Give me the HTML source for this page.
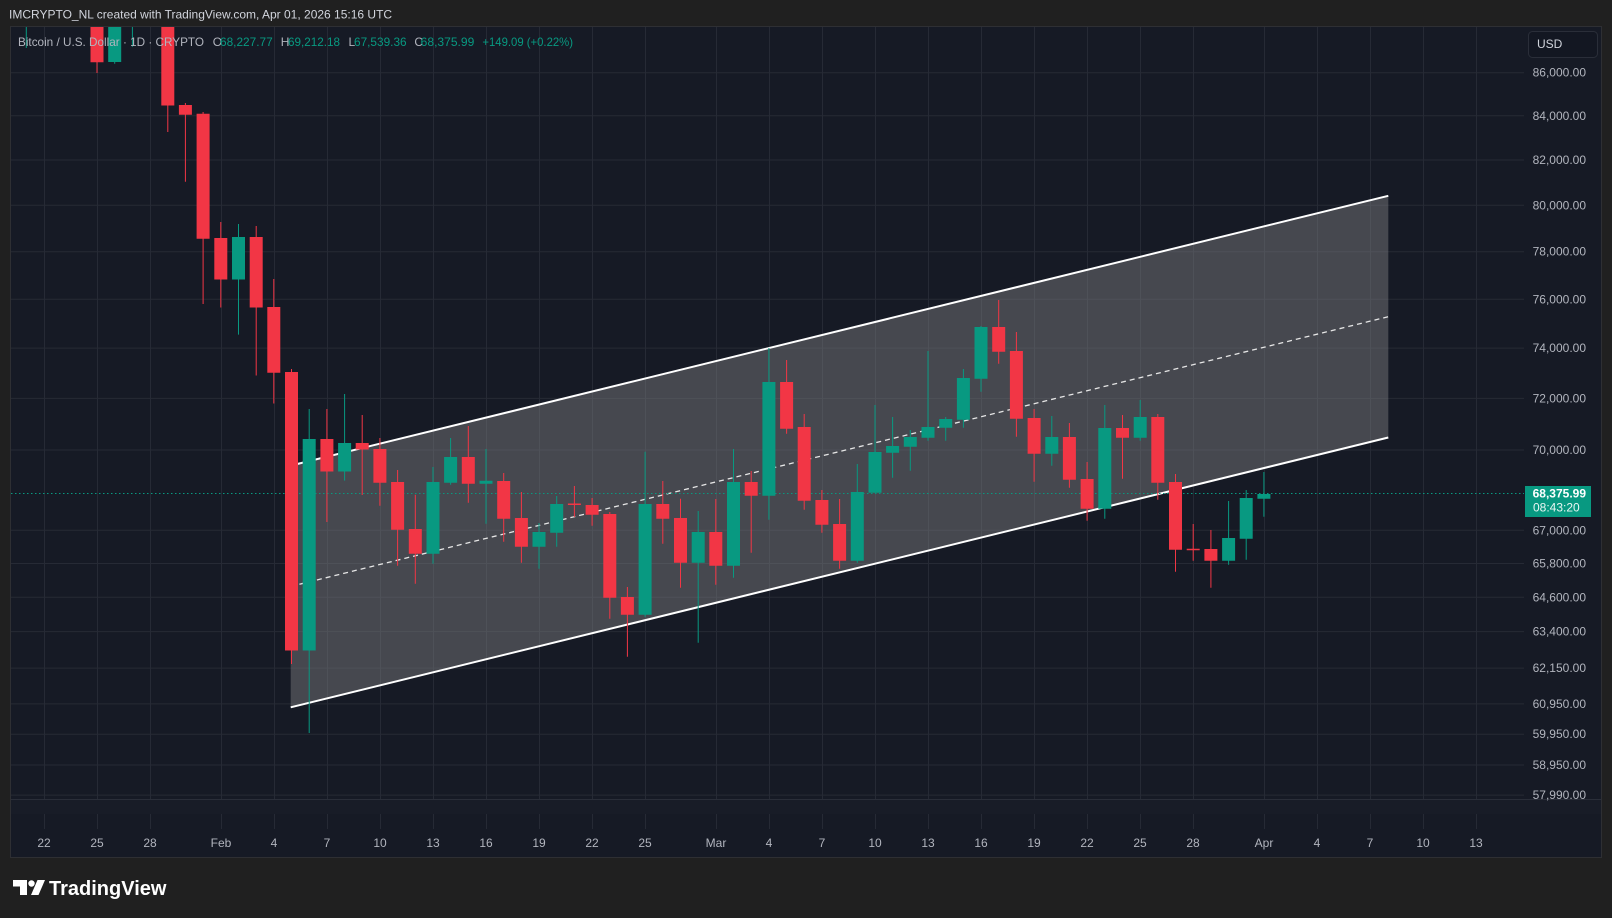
<!DOCTYPE html>
<html>
<head>
<meta charset="utf-8">
<style>
  html,body{margin:0;padding:0;background:#202020;}
  body{width:1612px;height:918px;overflow:hidden;}
  svg{display:block;}
  text{font-family:"Liberation Sans",sans-serif;}
</style>
</head>
<body>
<svg width="1612" height="918" viewBox="0 0 1612 918" xmlns="http://www.w3.org/2000/svg">
  <defs>
    <clipPath id="pane"><rect x="10" y="27" width="1514" height="772"/></clipPath>
  </defs>
  <!-- outer bg -->
  <rect x="0" y="0" width="1612" height="918" fill="#202020"/>
  <!-- header -->
  <text x="9" y="18.5" font-size="12" fill="#d1d4dc">IMCRYPTO_NL created with TradingView.com, Apr 01, 2026 15:16 UTC</text>

  <!-- chart panel -->
  <rect x="10.5" y="26.5" width="1591" height="831" fill="#161a25" stroke="#2e2f33" stroke-width="1"/>

  <!-- horizontal grid -->
  <g stroke="#262a35" stroke-width="1">
    <line x1="11" x2="1524" y1="72.7" y2="72.7"/>
    <line x1="11" x2="1524" y1="115.8" y2="115.8"/>
    <line x1="11" x2="1524" y1="160" y2="160"/>
    <line x1="11" x2="1524" y1="205.3" y2="205.3"/>
    <line x1="11" x2="1524" y1="251.7" y2="251.7"/>
    <line x1="11" x2="1524" y1="299.3" y2="299.3"/>
    <line x1="11" x2="1524" y1="348.1" y2="348.1"/>
    <line x1="11" x2="1524" y1="398.4" y2="398.4"/>
    <line x1="11" x2="1524" y1="450" y2="450"/>
    <line x1="11" x2="1524" y1="530.3" y2="530.3"/>
    <line x1="11" x2="1524" y1="563.5" y2="563.5"/>
    <line x1="11" x2="1524" y1="597.3" y2="597.3"/>
    <line x1="11" x2="1524" y1="631.6" y2="631.6"/>
    <line x1="11" x2="1524" y1="668.1" y2="668.1"/>
    <line x1="11" x2="1524" y1="703.9" y2="703.9"/>
    <line x1="11" x2="1524" y1="734.2" y2="734.2"/>
    <line x1="11" x2="1524" y1="765" y2="765"/>
    <line x1="11" x2="1524" y1="795.1" y2="795.1"/>
  </g>
  <!-- vertical grid -->
  <g stroke="#262a35" stroke-width="1">
    <line x1="44.5" x2="44.5" y1="27" y2="829"/>
    <line x1="97.5" x2="97.5" y1="27" y2="829"/>
    <line x1="150.5" x2="150.5" y1="27" y2="829"/>
    <line x1="221.5" x2="221.5" y1="27" y2="829"/>
    <line x1="274.5" x2="274.5" y1="27" y2="829"/>
    <line x1="327.5" x2="327.5" y1="27" y2="829"/>
    <line x1="380.5" x2="380.5" y1="27" y2="829"/>
    <line x1="433.5" x2="433.5" y1="27" y2="829"/>
    <line x1="486.5" x2="486.5" y1="27" y2="829"/>
    <line x1="539.5" x2="539.5" y1="27" y2="829"/>
    <line x1="592.5" x2="592.5" y1="27" y2="829"/>
    <line x1="645.5" x2="645.5" y1="27" y2="829"/>
    <line x1="716.5" x2="716.5" y1="27" y2="829"/>
    <line x1="769.5" x2="769.5" y1="27" y2="829"/>
    <line x1="822.5" x2="822.5" y1="27" y2="829"/>
    <line x1="875.5" x2="875.5" y1="27" y2="829"/>
    <line x1="928.5" x2="928.5" y1="27" y2="829"/>
    <line x1="981.5" x2="981.5" y1="27" y2="829"/>
    <line x1="1034.5" x2="1034.5" y1="27" y2="829"/>
    <line x1="1087.5" x2="1087.5" y1="27" y2="829"/>
    <line x1="1140.5" x2="1140.5" y1="27" y2="829"/>
    <line x1="1193.5" x2="1193.5" y1="27" y2="829"/>
    <line x1="1264.5" x2="1264.5" y1="27" y2="829"/>
    <line x1="1317.5" x2="1317.5" y1="27" y2="829"/>
    <line x1="1370.5" x2="1370.5" y1="27" y2="829"/>
    <line x1="1423.5" x2="1423.5" y1="27" y2="829"/>
    <line x1="1476.5" x2="1476.5" y1="27" y2="829"/>
  </g>
  <!-- pane separator -->
  <line x1="11" x2="1601" y1="799.5" y2="799.5" stroke="#2a2e39" stroke-width="1"/>
  <rect x="11" y="800" width="1590" height="14" fill="#181c27"/>

  <!-- channel -->
  <g clip-path="url(#pane)">
    <polygon points="290.7,465.6 1388.3,195.8 1388.3,437.5 290.7,707.3" fill="rgba(129,128,130,0.45)"/>
    <line x1="290.7" y1="465.6" x2="1388.3" y2="195.8" stroke="#ffffff" stroke-width="2"/>
    <line x1="290.7" y1="707.3" x2="1388.3" y2="437.5" stroke="#ffffff" stroke-width="2"/>
    <line x1="290.7" y1="586.4" x2="1388.3" y2="316.7" stroke="#e6e6e6" stroke-width="1.3" stroke-dasharray="5,4"/>
  </g>

  <!-- current price line -->
  <line x1="11" x2="1524" y1="493.5" y2="493.5" stroke="#089981" stroke-width="1" stroke-dasharray="1.5,2.5"/>

  <!-- candles -->
  <g clip-path="url(#pane)" fill="none">
    <path stroke="#f23645" stroke-width="1" d="M97 20V73 M167.8 20V132 M185.4 103V181.7 M203.1 112V304 M220.8 222V307.5 M256.2 226V375.5 M273.8 279V403.5 M291.5 369V664 M326.9 409V522 M362.2 415V495 M379.9 438V505.7 M397.6 470V565.7 M415.3 494.7V583.7 M468.3 426V502.7 M503.7 473V541.7 M521.4 492V562.7 M574.4 486V517 M592.1 498V525.7 M609.8 512V618.7 M627.4 587V656.7 M662.8 481V543.7 M680.5 498.7V587.7 M715.8 499V584.7 M751.2 471V552.7 M786.6 360V433.7 M804.2 414V509.7 M821.9 490V532.7 M839.6 499V568.7 M998.7 300V363.7 M1016.4 332V436.7 M1034.1 409V481.7 M1069.4 423V487.7 M1087.1 462V520.7 M1122.5 415V478.7 M1157.8 414V499.7 M1175.5 474V571.7 M1193.2 524V560.7 M1210.9 530V587.7"/>
    <path stroke="#f23645" stroke-width="13" d="M97 20V62.3 M167.8 20V105.5 M185.4 105V114.7 M203.1 113.8V238.7 M220.8 238V279.5 M256.2 237V307.5 M273.8 307V372.7 M291.5 372V650.5 M326.9 439V471.5 M362.2 443V449.5 M379.9 449V482.7 M397.6 482V529.7 M415.3 529V553.7 M468.3 457V483.7 M503.7 481V518.7 M521.4 518V546.7 M574.4 503.5V505 M592.1 505V514.7 M609.8 514V597.7 M627.4 597V614.7 M662.8 504V518.7 M680.5 518V562.7 M715.8 532V565.7 M751.2 482V495.7 M786.6 382V428.7 M804.2 427V500.7 M821.9 500V524.7 M839.6 524V560.7 M998.7 327V351.7 M1016.4 351V418.7 M1034.1 418V453.7 M1069.4 437V479.7 M1087.1 479V508.7 M1122.5 428V437.7 M1157.8 417V482.7 M1175.5 482V549.7 M1193.2 548.8V550.3 M1210.9 549V560.7"/>
    <path stroke="#089981" stroke-width="1" d="M26.3 20V48 M114.7 20V63.7 M132.4 20V46.7 M238.5 224V334.6 M309.2 409V733 M344.6 394V480.6 M433 467V563.7 M450.6 438V484.7 M486 449V523.7 M539 523V568.7 M556.7 496V546.7 M645.1 451.7V616.7 M698.2 511V642.7 M733.5 449V577.7 M768.9 348V519.7 M857.3 464V562.7 M875 405V492.7 M892.6 417V477.7 M910.3 430V470.7 M928 351V440.7 M945.7 417V440.7 M963.4 369V427.7 M981 326V391.7 M1051.8 416V465.7 M1104.8 405V518.7 M1140.2 400V440.7 M1228.6 501V564.7 M1246.2 490V559.7 M1263.9 472V516.7"/>
    <path stroke="#089981" stroke-width="13" d="M114.7 20V62 M238.5 237V279.5 M309.2 439V650.5 M344.6 443V471.5 M433 482V553.7 M450.6 457V482.7 M486 480.8V483.7 M539 532V546.7 M556.7 504V532.7 M645.1 504V614.7 M698.2 532V562.7 M733.5 482V565.7 M768.9 382V495.7 M857.3 492V560.7 M875 452V492.7 M892.6 446V452.7 M910.3 437V446.7 M928 427V437.7 M945.7 419V427.7 M963.4 378V419.7 M981 327V378.7 M1051.8 437V453.7 M1104.8 428V508.7 M1140.2 417V437.7 M1228.6 538V560.7 M1246.2 498V538.7 M1263.9 494V498.7"/>
  </g>

  <!-- legend -->
  <g font-size="12">
    <text x="18" y="46" fill="#b2b5be" textLength="186" lengthAdjust="spacingAndGlyphs">Bitcoin / U.S. Dollar · 1D · CRYPTO</text>
    <text x="212.7" y="46" fill="#b2b5be">O</text>
    <text x="220" y="46" fill="#089981" textLength="52.7" lengthAdjust="spacingAndGlyphs">68,227.77</text>
    <text x="280.8" y="46" fill="#b2b5be">H</text>
    <text x="288" y="46" fill="#089981" textLength="52" lengthAdjust="spacingAndGlyphs">69,212.18</text>
    <text x="348.5" y="46" fill="#b2b5be">L</text>
    <text x="354" y="46" fill="#089981" textLength="52.6" lengthAdjust="spacingAndGlyphs">67,539.36</text>
    <text x="414.4" y="46" fill="#b2b5be">C</text>
    <text x="420.7" y="46" fill="#089981" textLength="53.6" lengthAdjust="spacingAndGlyphs">68,375.99</text>
    <text x="482.4" y="46" fill="#089981" textLength="90.6" lengthAdjust="spacingAndGlyphs">+149.09 (+0.22%)</text>
  </g>

  <!-- USD button -->
  <rect x="1528.5" y="31.5" width="69" height="26" rx="4" fill="#131722" stroke="#2a2e39" stroke-width="1"/>
  <text x="1537" y="48" font-size="12" fill="#d1d4dc">USD</text>

  <!-- price axis labels -->
  <g font-size="12" fill="#b2b5be" text-anchor="end">
    <text x="1586" y="76.7">86,000.00</text>
    <text x="1586" y="119.8">84,000.00</text>
    <text x="1586" y="164">82,000.00</text>
    <text x="1586" y="209.3">80,000.00</text>
    <text x="1586" y="255.7">78,000.00</text>
    <text x="1586" y="303.3">76,000.00</text>
    <text x="1586" y="352.1">74,000.00</text>
    <text x="1586" y="402.4">72,000.00</text>
    <text x="1586" y="454">70,000.00</text>
    <text x="1586" y="534.3">67,000.00</text>
    <text x="1586" y="567.5">65,800.00</text>
    <text x="1586" y="601.3">64,600.00</text>
    <text x="1586" y="635.6">63,400.00</text>
    <text x="1586" y="672.1">62,150.00</text>
    <text x="1586" y="707.9">60,950.00</text>
    <text x="1586" y="738.2">59,950.00</text>
    <text x="1586" y="769">58,950.00</text>
    <text x="1586" y="799.1">57,990.00</text>
  </g>
  <!-- current price label -->
  <rect x="1525" y="486" width="66" height="31" fill="#089981"/>
  <text x="1586" y="497.5" font-size="12" font-weight="bold" fill="#ffffff" text-anchor="end">68,375.99</text>
  <text x="1533" y="511.5" font-size="12" fill="#e8f5f2">08:43:20</text>

  <!-- time axis labels -->
  <g font-size="12" fill="#b2b5be" text-anchor="middle">
    <text x="44" y="847">22</text>
    <text x="97" y="847">25</text>
    <text x="150" y="847">28</text>
    <text x="221" y="847">Feb</text>
    <text x="274" y="847">4</text>
    <text x="327" y="847">7</text>
    <text x="380" y="847">10</text>
    <text x="433" y="847">13</text>
    <text x="486" y="847">16</text>
    <text x="539" y="847">19</text>
    <text x="592" y="847">22</text>
    <text x="645" y="847">25</text>
    <text x="716" y="847">Mar</text>
    <text x="769" y="847">4</text>
    <text x="822" y="847">7</text>
    <text x="875" y="847">10</text>
    <text x="928" y="847">13</text>
    <text x="981" y="847">16</text>
    <text x="1034" y="847">19</text>
    <text x="1087" y="847">22</text>
    <text x="1140" y="847">25</text>
    <text x="1193" y="847">28</text>
    <text x="1264" y="847">Apr</text>
    <text x="1317" y="847">4</text>
    <text x="1370" y="847">7</text>
    <text x="1423" y="847">10</text>
    <text x="1476" y="847">13</text>
  </g>

  <!-- TradingView logo -->
  <g fill="#ffffff">
    <path d="M13 880H27V895H20V886.5H13Z"/>
    <circle cx="31.5" cy="883.5" r="3.2"/>
    <polygon points="37.5,880 45,880 38.5,895 31,895"/>
  </g>
  <text x="49" y="895" font-size="20" font-weight="bold" fill="#ffffff">TradingView</text>
</svg>
</body>
</html>
